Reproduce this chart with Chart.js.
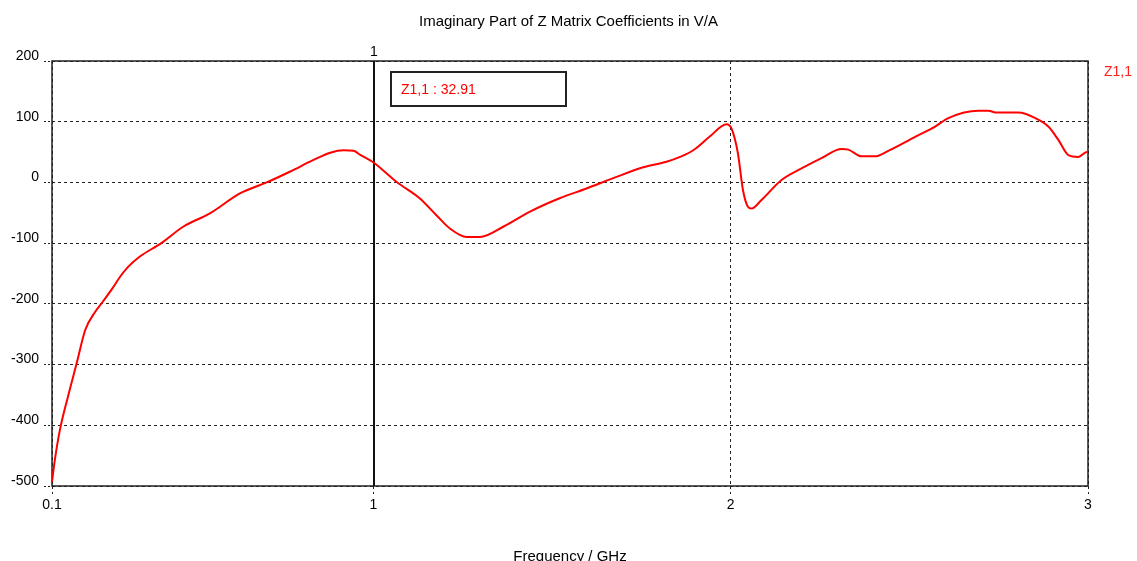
<!DOCTYPE html>
<html>
<head>
<meta charset="utf-8">
<script src="https://cdn.jsdelivr.net/npm/chart.js@4/dist/chart.umd.min.js"></script>
<style>
  html, body { margin: 0; padding: 0; background: #ffffff; overflow: hidden; }
  #c { display: block; }
</style>
</head>
<body>
<canvas id="c" width="1137" height="561"></canvas>
<script>
// ---- Data ----
const chartTitle = "Imaginary Part of Z Matrix Coefficients in V/A";
const xAxisTitle = "Frequency / GHz";
const seriesName = "Z1,1";

const frequencies = [
  0.1, 0.108, 0.122, 0.145, 0.169, 0.193, 0.221, 0.239, 0.272, 0.291,
  0.313, 0.346, 0.406, 0.467, 0.542, 0.626, 0.701, 0.767, 0.832, 0.879,
  0.916, 0.944, 0.964, 1.0, 1.064, 1.129, 1.176, 1.214, 1.261, 1.298,
  1.363, 1.438, 1.521, 1.596, 1.671, 1.755, 1.82, 1.858, 1.895, 1.942,
  1.988, 2.002, 2.02, 2.034, 2.048, 2.058, 2.086, 2.142, 2.198, 2.254,
  2.31, 2.329, 2.366, 2.404, 2.441, 2.516, 2.572, 2.609, 2.693, 2.721,
  2.745, 2.805, 2.852, 2.889, 2.917, 2.945, 2.973, 2.992, 3.0
];
const imagZ11 = [
  -493, -457, -408, -352, -298, -243, -213, -199, -172, -155,
  -139, -122, -100, -73, -51, -18, 0, 18, 37, 49,
  53, 52, 45, 32.91, 1, -26, -54, -76, -90, -90,
  -73, -48, -26, -10, 7, 25, 34, 42, 53, 76,
  96, 89, 48, -12, -40, -43, -29, 4, 23, 40,
  55, 54, 43, 43, 52, 75, 92, 106, 118, 118,
  115, 115, 106, 92, 70, 45, 42, 49, 51
];

const xTickValues = [0.1, 1, 2, 3];
const xTickLabels = ["0.1", "1", "2", "3"];
const yMin = -500, yMax = 200, yStep = 100;

const markerFreq = [1];
const markerLabels = ["1"];
const markerValues = [32.91];

// ---- Chart ----
const FONT = "'Liberation Sans', Arial, sans-serif";

const framePlugin = {
  id: 'frameAndMarker',
  beforeDatasetsDraw(chart) {
    const { ctx, chartArea: a, scales } = chart;
    ctx.save();
    // frame
    ctx.strokeStyle = '#222222';
    ctx.lineWidth = 1.5;
    ctx.setLineDash([]);
    ctx.strokeRect(a.left, a.top, a.right - a.left, a.bottom - a.top);
    // marker lines
    markerFreq.forEach((f, i) => {
      const px = Math.round(scales.x.getPixelForValue(f));
      ctx.strokeStyle = '#111111';
      ctx.lineWidth = 2;
      ctx.beginPath();
      ctx.moveTo(px, a.top);
      ctx.lineTo(px, a.bottom);
      ctx.stroke();
      ctx.fillStyle = '#000000';
      ctx.font = "14px " + FONT;
      ctx.textAlign = 'center';
      ctx.textBaseline = 'middle';
      ctx.fillText(markerLabels[i], px, a.top - 9);
    });
    ctx.restore();
  },
  afterDatasetsDraw(chart) {
    const { ctx, chartArea: a, scales } = chart;
    ctx.save();
    markerFreq.forEach((f, i) => {
      const px = Math.round(scales.x.getPixelForValue(f));
      const bx = px + 17, by = a.top + 11, bw = 175, bh = 34;
      ctx.fillStyle = '#ffffff';
      ctx.fillRect(bx, by, bw, bh);
      ctx.strokeStyle = '#222222';
      ctx.lineWidth = 2;
      ctx.strokeRect(bx, by, bw, bh);
      ctx.fillStyle = '#ff0000';
      ctx.font = "14px " + FONT;
      ctx.textAlign = 'left';
      ctx.textBaseline = 'middle';
      ctx.fillText(seriesName + " : " + markerValues[i].toFixed(2), bx + 10, by + bh / 2 + 1);
    });
    // series name at the right
    ctx.fillStyle = '#ff2020';
    ctx.font = "14px " + FONT;
    ctx.textAlign = 'left';
    ctx.textBaseline = 'middle';
    ctx.fillText(chart.data.datasets[0].label, a.right + 16, a.top + 11);
    ctx.restore();
  }
};

new Chart(document.getElementById('c'), {
  type: 'line',
  data: {
    datasets: [{
      label: seriesName,
      data: frequencies.map((f, i) => ({ x: f, y: imagZ11[i] })),
      borderColor: '#ff0000',
      borderWidth: 2,
      pointRadius: 0,
      cubicInterpolationMode: 'monotone',
      fill: false
    }]
  },
  options: {
    responsive: false,
    devicePixelRatio: 1,
    animation: false,
    layout: { padding: { left: 0, right: 0, top: 0, bottom: 0 } },
    plugins: {
      legend: { display: false },
      tooltip: { enabled: false },
      title: {
        display: true,
        text: chartTitle,
        color: '#000000',
        font: { family: FONT, size: 15, weight: 'normal', lineHeight: 1.2 },
        padding: { top: 13, bottom: 30 }
      }
    },
    scales: {
      x: {
        type: 'linear',
        min: 0.1,
        max: 3,
        afterBuildTicks(scale) { scale.ticks = xTickValues.map(v => ({ value: v })); },
        afterFit(scale) { scale.height = 75; },
        ticks: {
          autoSkip: false,
          maxRotation: 0,
          padding: 3,
          color: '#000000',
          font: { family: FONT, size: 14 },
          callback: (v) => { const k = xTickValues.indexOf(v); return k >= 0 ? xTickLabels[k] : ''; }
        },
        grid: {
          color: '#222222',
          lineWidth: 1,
          tickLength: 8,
          tickBorderDash: [3, 3]
        },
        border: { display: false, dash: [3, 3] },
        title: {
          display: true,
          text: xAxisTitle,
          color: '#000000',
          font: { family: FONT, size: 15, lineHeight: 0.6 },
          padding: { top: 0, bottom: 0 }
        }
      },
      y: {
        type: 'linear',
        min: yMin,
        max: yMax,
        afterFit(scale) { scale.width = 52; },
        ticks: {
          stepSize: yStep,
          padding: 5,
          labelOffset: -5,
          color: '#000000',
          font: { family: FONT, size: 14 }
        },
        grid: {
          color: '#222222',
          lineWidth: 1,
          tickLength: 8,
          tickBorderDash: [2, 2]
        },
        border: { display: false, dash: [3, 3] }
      },
      yRight: {
        type: 'linear',
        position: 'right',
        min: yMin,
        max: yMax,
        afterFit(scale) { scale.width = 49; },
        ticks: { display: false },
        grid: { display: false, drawOnChartArea: false, drawTicks: false },
        border: { display: false }
      }
    }
  },
  plugins: [framePlugin]
});
</script>
</body>
</html>
